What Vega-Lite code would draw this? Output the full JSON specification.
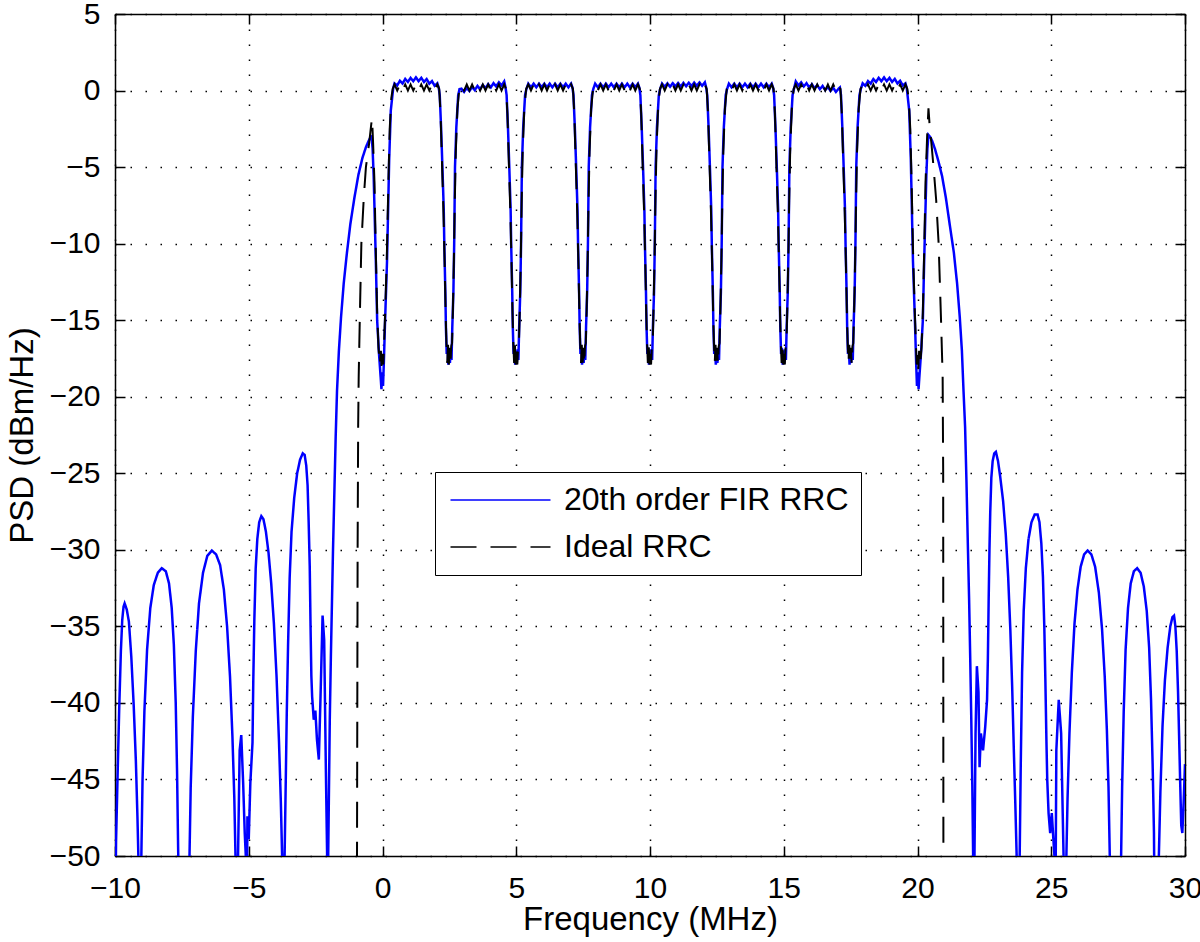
{
"$schema":"https://vega.github.io/schema/vega-lite/v6.json",
"width":1070,"height":842,
"autosize":{"type":"none"},
"padding":{"left":115,"top":14,"right":15,"bottom":86},
"background":"white",
"datasets":{
"fir":[
{"f":-10.0,"p":-56},{"f":-9.96,"p":-49.0},{"f":-9.90,"p":-44.5},{"f":-9.84,"p":-40.2},{"f":-9.78,"p":-36.6},{"f":-9.73,"p":-34.6},{"f":-9.68,"p":-33.7},{"f":-9.64,"p":-33.5},{"f":-9.56,"p":-33.9},{"f":-9.48,"p":-34.7},{"f":-9.39,"p":-37.0},{"f":-9.30,"p":-40.2},{"f":-9.22,"p":-43.8},{"f":-9.16,"p":-47.5},{"f":-9.12,"p":-50.5},{"f":-9.065,"p":-70},
{"f":-9.02,"p":-50.5},{"f":-8.97,"p":-45.0},{"f":-8.90,"p":-40.5},{"f":-8.80,"p":-36.5},{"f":-8.68,"p":-33.8},{"f":-8.55,"p":-32.3},{"f":-8.40,"p":-31.5},{"f":-8.25,"p":-31.2},{"f":-8.10,"p":-31.4},{"f":-7.98,"p":-32.2},{"f":-7.88,"p":-33.8},{"f":-7.80,"p":-36.2},{"f":-7.73,"p":-40.0},{"f":-7.68,"p":-44.5},{"f":-7.64,"p":-49.5},{"f":-7.43,"p":-70},
{"f":-7.22,"p":-50.5},{"f":-7.17,"p":-45.5},{"f":-7.09,"p":-40.9},{"f":-6.98,"p":-36.6},{"f":-6.86,"p":-33.5},{"f":-6.71,"p":-31.5},{"f":-6.55,"p":-30.4},{"f":-6.38,"p":-30.05},{"f":-6.22,"p":-30.3},{"f":-6.07,"p":-31.0},{"f":-5.93,"p":-32.6},{"f":-5.81,"p":-35.0},{"f":-5.70,"p":-38.3},{"f":-5.61,"p":-42.2},{"f":-5.54,"p":-46.2},{"f":-5.49,"p":-50.5},{"f":-5.45,"p":-70},
{"f":-5.40,"p":-50},{"f":-5.34,"p":-43.1},{"f":-5.28,"p":-42.1},{"f":-5.21,"p":-45.2},{"f":-5.15,"p":-48.5},{"f":-5.11,"p":-50},{"f":-5.08,"p":-56},{"f":-5.05,"p":-47.4},{"f":-5.00,"p":-48.9},{"f":-4.94,"p":-45.2},{"f":-4.86,"p":-42.6},
{"f":-4.83,"p":-38.5},{"f":-4.79,"p":-34.5},{"f":-4.74,"p":-31.2},{"f":-4.68,"p":-29.3},{"f":-4.61,"p":-28.2},{"f":-4.53,"p":-27.8},{"f":-4.45,"p":-28.0},{"f":-4.36,"p":-28.8},{"f":-4.26,"p":-30.2},{"f":-4.16,"p":-32.2},{"f":-4.06,"p":-34.8},{"f":-3.96,"p":-38.3},{"f":-3.87,"p":-42.5},{"f":-3.80,"p":-46.5},{"f":-3.75,"p":-50.2},{"f":-3.70,"p":-70},
{"f":-3.66,"p":-50},{"f":-3.62,"p":-45.5},{"f":-3.58,"p":-40.8},{"f":-3.53,"p":-36.2},{"f":-3.47,"p":-31.8},{"f":-3.40,"p":-28.8},{"f":-3.30,"p":-26.6},{"f":-3.19,"p":-25.0},{"f":-3.08,"p":-24.1},{"f":-2.98,"p":-23.7},{"f":-2.91,"p":-23.8},{"f":-2.85,"p":-24.5},{"f":-2.80,"p":-25.8},{"f":-2.76,"p":-28.2},{"f":-2.72,"p":-31.1},{"f":-2.69,"p":-35.0},{"f":-2.66,"p":-38.2},{"f":-2.63,"p":-39.6},{"f":-2.57,"p":-41.1},{"f":-2.51,"p":-40.5},{"f":-2.45,"p":-42.4},{"f":-2.38,"p":-43.7},{"f":-2.32,"p":-39.8},{"f":-2.24,"p":-34.3},{"f":-2.18,"p":-35.9},{"f":-2.12,"p":-44.0},{"f":-2.07,"p":-50},{"f":-2.05,"p":-70},
{"f":-2.03,"p":-50},{"f":-2.00,"p":-45.5},{"f":-1.97,"p":-41.0},{"f":-1.93,"p":-37.0},{"f":-1.89,"p":-33.5},{"f":-1.85,"p":-30.0},{"f":-1.80,"p":-26.3},{"f":-1.75,"p":-22.6},{"f":-1.70,"p":-19.6},{"f":-1.63,"p":-17.0},{"f":-1.55,"p":-14.8},{"f":-1.45,"p":-12.6},{"f":-1.33,"p":-10.6},{"f":-1.20,"p":-8.7},{"f":-1.05,"p":-7.0},{"f":-0.90,"p":-5.5},{"f":-0.75,"p":-4.4},{"f":-0.62,"p":-3.7},{"f":-0.52,"p":-3.3},{"f":-0.45,"p":-3.05},{"f":-0.41,"p":-3.0},{"f":-0.37,"p":-3.8},{"f":-0.33,"p":-5.6},{"f":-0.25,"p":-11.1},{"f":-0.20,"p":-15.0},{"f":-0.13,"p":-17.2},{"f":-0.07,"p":-18.7},{"f":-0.04,"p":-19.5},{"f":-0.01,"p":-18.4},{"f":0.02,"p":-19.3},{"f":0.05,"p":-17.8},{"f":0.09,"p":-15.4},{"f":0.17,"p":-11.1},{"f":0.25,"p":-4.5},{"f":0.31,"p":-1.3},{"f":0.40,"p":0.15},
{"f":0.45,"p":0.47},{"f":0.55,"p":0.33},{"f":0.65,"p":0.64},{"f":0.75,"p":0.46},{"f":0.85,"p":0.76},{"f":0.95,"p":0.56},{"f":1.05,"p":0.83},{"f":1.15,"p":0.61},{"f":1.25,"p":0.86},{"f":1.35,"p":0.61},{"f":1.45,"p":0.83},{"f":1.55,"p":0.56},{"f":1.65,"p":0.75},{"f":1.75,"p":0.45},{"f":1.85,"p":0.62},{"f":1.95,"p":0.31},{"f":2.05,"p":0.47},
{"f":2.10,"p":0.2},{"f":2.14,"p":-0.3},{"f":2.19,"p":-2.4},{"f":2.24,"p":-5.0},{"f":2.29,"p":-7.8},{"f":2.31,"p":-10.0},{"f":2.35,"p":-13.2},{"f":2.37,"p":-15.4},{"f":2.40,"p":-17.2},{"f":2.43,"p":-16.8},{"f":2.46,"p":-17.9},{"f":2.49,"p":-17.0},{"f":2.52,"p":-17.8},{"f":2.55,"p":-16.9},{"f":2.58,"p":-17.6},{"f":2.61,"p":-15.4},{"f":2.65,"p":-13.2},{"f":2.68,"p":-10.0},{"f":2.71,"p":-5.0},{"f":2.76,"p":-2.4},{"f":2.83,"p":-0.3},{"f":2.88,"p":0.1},
{"f":2.95,"p":0.12},{"f":3.05,"p":-0.09},{"f":3.15,"p":0.18},{"f":3.25,"p":-0.03},{"f":3.35,"p":0.24},{"f":3.45,"p":0.03},{"f":3.55,"p":0.30},{"f":3.65,"p":0.09},{"f":3.75,"p":0.36},{"f":3.85,"p":0.15},{"f":3.95,"p":0.42},{"f":4.05,"p":0.21},{"f":4.15,"p":0.48},{"f":4.25,"p":0.27},{"f":4.35,"p":0.54},{"f":4.45,"p":0.33},{"f":4.55,"p":0.60},
{"f":4.60,"p":0.2},{"f":4.64,"p":-0.3},{"f":4.69,"p":-2.4},{"f":4.74,"p":-5.0},{"f":4.79,"p":-7.8},{"f":4.81,"p":-10.0},{"f":4.85,"p":-13.2},{"f":4.87,"p":-15.4},{"f":4.90,"p":-17.2},{"f":4.93,"p":-16.8},{"f":4.96,"p":-17.9},{"f":4.99,"p":-17.0},{"f":5.02,"p":-17.8},{"f":5.05,"p":-16.9},{"f":5.08,"p":-17.6},{"f":5.11,"p":-15.4},{"f":5.15,"p":-13.2},{"f":5.18,"p":-10.0},{"f":5.21,"p":-5.0},{"f":5.26,"p":-2.4},{"f":5.33,"p":-0.3},{"f":5.38,"p":0.1},
{"f":5.45,"p":0.45},{"f":5.55,"p":0.21},{"f":5.65,"p":0.45},{"f":5.75,"p":0.21},{"f":5.85,"p":0.45},{"f":5.95,"p":0.21},{"f":6.05,"p":0.45},{"f":6.15,"p":0.21},{"f":6.25,"p":0.45},{"f":6.35,"p":0.21},{"f":6.45,"p":0.45},{"f":6.55,"p":0.21},{"f":6.65,"p":0.45},{"f":6.75,"p":0.21},{"f":6.85,"p":0.45},{"f":6.95,"p":0.21},{"f":7.05,"p":0.45},
{"f":7.10,"p":0.2},{"f":7.14,"p":-0.3},{"f":7.19,"p":-2.4},{"f":7.24,"p":-5.0},{"f":7.29,"p":-7.8},{"f":7.31,"p":-10.0},{"f":7.35,"p":-13.2},{"f":7.37,"p":-15.4},{"f":7.40,"p":-17.2},{"f":7.43,"p":-16.8},{"f":7.46,"p":-17.9},{"f":7.49,"p":-17.0},{"f":7.52,"p":-17.8},{"f":7.55,"p":-16.9},{"f":7.58,"p":-17.6},{"f":7.61,"p":-15.4},{"f":7.65,"p":-13.2},{"f":7.68,"p":-10.0},{"f":7.71,"p":-5.0},{"f":7.76,"p":-2.4},{"f":7.83,"p":-0.3},{"f":7.88,"p":0.1},
{"f":7.95,"p":0.45},{"f":8.05,"p":0.21},{"f":8.15,"p":0.45},{"f":8.25,"p":0.21},{"f":8.35,"p":0.45},{"f":8.45,"p":0.21},{"f":8.55,"p":0.45},{"f":8.65,"p":0.21},{"f":8.75,"p":0.45},{"f":8.85,"p":0.21},{"f":8.95,"p":0.45},{"f":9.05,"p":0.21},{"f":9.15,"p":0.45},{"f":9.25,"p":0.21},{"f":9.35,"p":0.45},{"f":9.45,"p":0.21},{"f":9.55,"p":0.45},
{"f":9.60,"p":0.2},{"f":9.64,"p":-0.3},{"f":9.69,"p":-2.4},{"f":9.74,"p":-5.0},{"f":9.79,"p":-7.8},{"f":9.81,"p":-10.0},{"f":9.85,"p":-13.2},{"f":9.87,"p":-15.4},{"f":9.90,"p":-17.2},{"f":9.93,"p":-16.8},{"f":9.96,"p":-17.9},{"f":9.99,"p":-17.0},{"f":10.02,"p":-17.8},{"f":10.05,"p":-16.9},{"f":10.08,"p":-17.6},{"f":10.11,"p":-15.4},{"f":10.15,"p":-13.2},{"f":10.18,"p":-10.0},{"f":10.21,"p":-5.0},{"f":10.26,"p":-2.4},{"f":10.33,"p":-0.3},{"f":10.38,"p":0.1},
{"f":10.45,"p":0.46},{"f":10.55,"p":0.24},{"f":10.65,"p":0.47},{"f":10.75,"p":0.25},{"f":10.85,"p":0.48},{"f":10.95,"p":0.26},{"f":11.05,"p":0.49},{"f":11.15,"p":0.27},{"f":11.25,"p":0.50},{"f":11.35,"p":0.28},{"f":11.45,"p":0.51},{"f":11.55,"p":0.29},{"f":11.65,"p":0.52},{"f":11.75,"p":0.30},{"f":11.85,"p":0.53},{"f":11.95,"p":0.31},{"f":12.05,"p":0.54},
{"f":12.10,"p":0.2},{"f":12.14,"p":-0.3},{"f":12.19,"p":-2.4},{"f":12.24,"p":-5.0},{"f":12.29,"p":-7.8},{"f":12.31,"p":-10.0},{"f":12.35,"p":-13.2},{"f":12.37,"p":-15.4},{"f":12.40,"p":-17.2},{"f":12.43,"p":-16.8},{"f":12.46,"p":-17.9},{"f":12.49,"p":-17.0},{"f":12.52,"p":-17.8},{"f":12.55,"p":-16.9},{"f":12.58,"p":-17.6},{"f":12.61,"p":-15.4},{"f":12.65,"p":-13.2},{"f":12.68,"p":-10.0},{"f":12.71,"p":-5.0},{"f":12.76,"p":-2.4},{"f":12.83,"p":-0.3},{"f":12.88,"p":0.1},
{"f":12.95,"p":0.45},{"f":13.05,"p":0.21},{"f":13.15,"p":0.45},{"f":13.25,"p":0.21},{"f":13.35,"p":0.45},{"f":13.45,"p":0.21},{"f":13.55,"p":0.45},{"f":13.65,"p":0.21},{"f":13.75,"p":0.45},{"f":13.85,"p":0.21},{"f":13.95,"p":0.45},{"f":14.05,"p":0.21},{"f":14.15,"p":0.45},{"f":14.25,"p":0.21},{"f":14.35,"p":0.45},{"f":14.45,"p":0.21},{"f":14.55,"p":0.45},
{"f":14.60,"p":0.2},{"f":14.64,"p":-0.3},{"f":14.69,"p":-2.4},{"f":14.74,"p":-5.0},{"f":14.79,"p":-7.8},{"f":14.81,"p":-10.0},{"f":14.85,"p":-13.2},{"f":14.87,"p":-15.4},{"f":14.90,"p":-17.2},{"f":14.93,"p":-16.8},{"f":14.96,"p":-17.9},{"f":14.99,"p":-17.0},{"f":15.02,"p":-17.8},{"f":15.05,"p":-16.9},{"f":15.08,"p":-17.6},{"f":15.11,"p":-15.4},{"f":15.15,"p":-13.2},{"f":15.18,"p":-10.0},{"f":15.21,"p":-5.0},{"f":15.26,"p":-2.4},{"f":15.33,"p":-0.3},{"f":15.38,"p":0.1},
{"f":15.45,"p":0.60},{"f":15.55,"p":0.33},{"f":15.65,"p":0.54},{"f":15.75,"p":0.27},{"f":15.85,"p":0.48},{"f":15.95,"p":0.21},{"f":16.05,"p":0.42},{"f":16.15,"p":0.15},{"f":16.25,"p":0.36},{"f":16.35,"p":0.09},{"f":16.45,"p":0.30},{"f":16.55,"p":0.03},{"f":16.65,"p":0.24},{"f":16.75,"p":-0.03},{"f":16.85,"p":0.18},{"f":16.95,"p":-0.09},{"f":17.05,"p":0.12},
{"f":17.10,"p":0.2},{"f":17.14,"p":-0.3},{"f":17.19,"p":-2.4},{"f":17.24,"p":-5.0},{"f":17.29,"p":-7.8},{"f":17.31,"p":-10.0},{"f":17.35,"p":-13.2},{"f":17.37,"p":-15.4},{"f":17.40,"p":-17.2},{"f":17.43,"p":-16.8},{"f":17.46,"p":-17.9},{"f":17.49,"p":-17.0},{"f":17.52,"p":-17.8},{"f":17.55,"p":-16.9},{"f":17.58,"p":-17.6},{"f":17.61,"p":-15.4},{"f":17.65,"p":-13.2},{"f":17.68,"p":-10.0},{"f":17.71,"p":-5.0},{"f":17.76,"p":-2.4},{"f":17.83,"p":-0.3},{"f":17.88,"p":0.1},
{"f":17.95,"p":0.47},{"f":18.05,"p":0.31},{"f":18.15,"p":0.62},{"f":18.25,"p":0.45},{"f":18.35,"p":0.75},{"f":18.45,"p":0.56},{"f":18.55,"p":0.83},{"f":18.65,"p":0.61},{"f":18.75,"p":0.86},{"f":18.85,"p":0.61},{"f":18.95,"p":0.83},{"f":19.05,"p":0.56},{"f":19.15,"p":0.76},{"f":19.25,"p":0.46},{"f":19.35,"p":0.64},{"f":19.45,"p":0.33},{"f":19.55,"p":0.47},
{"f":19.60,"p":0.15},{"f":19.69,"p":-1.3},{"f":19.75,"p":-4.5},{"f":19.83,"p":-11.1},{"f":19.91,"p":-15.4},{"f":19.95,"p":-17.8},{"f":19.98,"p":-19.3},{"f":20.01,"p":-18.4},{"f":20.04,"p":-19.5},{"f":20.07,"p":-18.7},{"f":20.13,"p":-17.2},{"f":20.20,"p":-15.0},{"f":20.25,"p":-11.1},{"f":20.33,"p":-5.6},{"f":20.37,"p":-3.8},{"f":20.41,"p":-2.9},{"f":20.48,"p":-3.05},{"f":20.55,"p":-3.3},{"f":20.65,"p":-3.8},{"f":20.78,"p":-4.6},{"f":20.92,"p":-5.6},{"f":21.06,"p":-7.0},{"f":21.20,"p":-8.7},{"f":21.36,"p":-10.6},{"f":21.48,"p":-12.6},{"f":21.58,"p":-14.8},{"f":21.66,"p":-17.0},{"f":21.72,"p":-19.6},{"f":21.78,"p":-22.0},{"f":21.83,"p":-25.5},{"f":21.88,"p":-29.5},{"f":21.93,"p":-33.3},{"f":21.97,"p":-37.0},{"f":22.01,"p":-41.0},{"f":22.05,"p":-45.5},{"f":22.08,"p":-50},{"f":22.10,"p":-70},
{"f":22.13,"p":-50},{"f":22.17,"p":-42.0},{"f":22.22,"p":-37.6},{"f":22.28,"p":-39.3},{"f":22.32,"p":-44.2},{"f":22.37,"p":-42.0},{"f":22.45,"p":-43.1},{"f":22.53,"p":-41.6},{"f":22.60,"p":-39.8},{"f":22.63,"p":-37.2},
{"f":22.66,"p":-33.3},{"f":22.69,"p":-30.0},{"f":22.72,"p":-27.5},{"f":22.76,"p":-25.3},{"f":22.81,"p":-24.2},{"f":22.87,"p":-23.7},{"f":22.93,"p":-23.6},{"f":23.01,"p":-24.2},{"f":23.09,"p":-25.2},{"f":23.20,"p":-26.8},{"f":23.30,"p":-29.0},{"f":23.39,"p":-31.8},{"f":23.47,"p":-35.2},{"f":23.54,"p":-39.0},{"f":23.60,"p":-43.0},{"f":23.66,"p":-46.8},{"f":23.71,"p":-50.2},{"f":23.77,"p":-70},
{"f":23.82,"p":-50},{"f":23.86,"p":-44.0},{"f":23.91,"p":-38.0},{"f":23.97,"p":-34.0},{"f":24.05,"p":-31.2},{"f":24.15,"p":-29.3},{"f":24.26,"p":-28.2},{"f":24.38,"p":-27.7},{"f":24.49,"p":-27.7},{"f":24.56,"p":-28.2},{"f":24.63,"p":-29.6},{"f":24.69,"p":-31.8},{"f":24.74,"p":-35.0},{"f":24.78,"p":-38.5},{"f":24.82,"p":-42.5},{"f":24.85,"p":-45.0},{"f":24.90,"p":-47.2},{"f":24.96,"p":-48.5},{"f":25.02,"p":-47.2},{"f":25.09,"p":-49.2},{"f":25.12,"p":-50},{"f":25.15,"p":-56},{"f":25.19,"p":-43.1},{"f":25.28,"p":-39.8},{"f":25.37,"p":-42.0},{"f":25.46,"p":-50},{"f":25.51,"p":-70},
{"f":25.56,"p":-50.5},{"f":25.61,"p":-46.2},{"f":25.68,"p":-42.0},{"f":25.77,"p":-38.0},{"f":25.87,"p":-34.8},{"f":25.98,"p":-32.6},{"f":26.10,"p":-31.1},{"f":26.23,"p":-30.3},{"f":26.36,"p":-30.05},{"f":26.50,"p":-30.3},{"f":26.64,"p":-31.1},{"f":26.78,"p":-32.8},{"f":26.90,"p":-35.2},{"f":27.00,"p":-38.3},{"f":27.08,"p":-41.8},{"f":27.14,"p":-45.5},{"f":27.19,"p":-50.2},{"f":27.40,"p":-70},
{"f":27.61,"p":-50.2},{"f":27.65,"p":-45.5},{"f":27.71,"p":-40.5},{"f":27.78,"p":-36.5},{"f":27.87,"p":-33.8},{"f":27.97,"p":-32.2},{"f":28.09,"p":-31.4},{"f":28.21,"p":-31.2},{"f":28.34,"p":-31.5},{"f":28.46,"p":-32.4},{"f":28.57,"p":-34.0},{"f":28.66,"p":-36.4},{"f":28.73,"p":-39.8},{"f":28.79,"p":-44.0},{"f":28.84,"p":-48.5},{"f":28.93,"p":-70},
{"f":29.02,"p":-50.2},{"f":29.08,"p":-45.8},{"f":29.16,"p":-41.5},{"f":29.25,"p":-38.5},{"f":29.35,"p":-36.4},{"f":29.45,"p":-35.0},{"f":29.53,"p":-34.4},{"f":29.59,"p":-34.3},{"f":29.64,"p":-35.0},{"f":29.69,"p":-36.6},{"f":29.74,"p":-39.3},{"f":29.78,"p":-42.2},{"f":29.82,"p":-45.2},{"f":29.86,"p":-48.0},{"f":29.90,"p":-48.5},{"f":29.95,"p":-46.5},{"f":30.0,"p":-44.0}
],
"ideal":[
{"f":-0.96,"p":-56},{"f":-0.93,"p":-30},{"f":-0.91,"p":-22},{"f":-0.89,"p":-18.7},{"f":-0.85,"p":-15.0},{"f":-0.79,"p":-10.0},{"f":-0.70,"p":-7.0},{"f":-0.62,"p":-5.0},{"f":-0.50,"p":-3.45},{"f":-0.42,"p":-2.2},{"f":-0.39,"p":-1.8},{"f":-0.35,"p":-3.5},{"f":-0.30,"p":-6.0},{"f":-0.25,"p":-10.5},{"f":-0.20,"p":-14.5},{"f":-0.15,"p":-16.8},{"f":-0.10,"p":-17.9},{"f":-0.06,"p":-17.0},{"f":-0.03,"p":-18.2},{"f":0.00,"p":-17.2},{"f":0.03,"p":-17.9},{"f":0.06,"p":-16.5},{"f":0.10,"p":-14.5},{"f":0.16,"p":-11.0},{"f":0.22,"p":-6.0},{"f":0.27,"p":-2.5},{"f":0.33,"p":-0.5},{"f":0.38,"p":0.1},
{"f":0.45,"p":0.4},{"f":0.55,"p":0.0},{"f":0.65,"p":0.4},{"f":0.75,"p":0.0},{"f":0.85,"p":0.4},{"f":0.95,"p":0.0},{"f":1.05,"p":0.4},{"f":1.15,"p":0.0},{"f":1.25,"p":0.4},{"f":1.35,"p":0.0},{"f":1.45,"p":0.4},{"f":1.55,"p":0.0},{"f":1.65,"p":0.4},{"f":1.75,"p":0.0},{"f":1.85,"p":0.4},{"f":1.95,"p":0.0},{"f":2.05,"p":0.4},
{"f":2.12,"p":0.1},{"f":2.17,"p":-1.5},{"f":2.22,"p":-4.5},{"f":2.28,"p":-8.0},{"f":2.32,"p":-11.0},{"f":2.36,"p":-14.5},{"f":2.39,"p":-16.5},{"f":2.42,"p":-17.8},{"f":2.45,"p":-16.6},{"f":2.48,"p":-17.9},{"f":2.51,"p":-16.8},{"f":2.54,"p":-17.9},{"f":2.57,"p":-16.7},{"f":2.60,"p":-16.5},{"f":2.63,"p":-14.5},{"f":2.67,"p":-11.0},{"f":2.70,"p":-7.5},{"f":2.74,"p":-4.0},{"f":2.80,"p":-1.2},{"f":2.87,"p":0.1},
{"f":2.95,"p":0.4},{"f":3.05,"p":0.0},{"f":3.15,"p":0.4},{"f":3.25,"p":0.0},{"f":3.35,"p":0.4},{"f":3.45,"p":0.0},{"f":3.55,"p":0.4},{"f":3.65,"p":0.0},{"f":3.75,"p":0.4},{"f":3.85,"p":0.0},{"f":3.95,"p":0.4},{"f":4.05,"p":0.0},{"f":4.15,"p":0.4},{"f":4.25,"p":0.0},{"f":4.35,"p":0.4},{"f":4.45,"p":0.0},{"f":4.55,"p":0.4},
{"f":4.62,"p":0.1},{"f":4.67,"p":-1.5},{"f":4.72,"p":-4.5},{"f":4.78,"p":-8.0},{"f":4.82,"p":-11.0},{"f":4.86,"p":-14.5},{"f":4.89,"p":-16.5},{"f":4.92,"p":-17.8},{"f":4.95,"p":-16.6},{"f":4.98,"p":-17.9},{"f":5.01,"p":-16.8},{"f":5.04,"p":-17.9},{"f":5.07,"p":-16.7},{"f":5.10,"p":-16.5},{"f":5.13,"p":-14.5},{"f":5.17,"p":-11.0},{"f":5.20,"p":-7.5},{"f":5.24,"p":-4.0},{"f":5.30,"p":-1.2},{"f":5.37,"p":0.1},
{"f":5.45,"p":0.4},{"f":5.55,"p":0.0},{"f":5.65,"p":0.4},{"f":5.75,"p":0.0},{"f":5.85,"p":0.4},{"f":5.95,"p":0.0},{"f":6.05,"p":0.4},{"f":6.15,"p":0.0},{"f":6.25,"p":0.4},{"f":6.35,"p":0.0},{"f":6.45,"p":0.4},{"f":6.55,"p":0.0},{"f":6.65,"p":0.4},{"f":6.75,"p":0.0},{"f":6.85,"p":0.4},{"f":6.95,"p":0.0},{"f":7.05,"p":0.4},
{"f":7.12,"p":0.1},{"f":7.17,"p":-1.5},{"f":7.22,"p":-4.5},{"f":7.28,"p":-8.0},{"f":7.32,"p":-11.0},{"f":7.36,"p":-14.5},{"f":7.39,"p":-16.5},{"f":7.42,"p":-17.8},{"f":7.45,"p":-16.6},{"f":7.48,"p":-17.9},{"f":7.51,"p":-16.8},{"f":7.54,"p":-17.9},{"f":7.57,"p":-16.7},{"f":7.60,"p":-16.5},{"f":7.63,"p":-14.5},{"f":7.67,"p":-11.0},{"f":7.70,"p":-7.5},{"f":7.74,"p":-4.0},{"f":7.80,"p":-1.2},{"f":7.87,"p":0.1},
{"f":7.95,"p":0.4},{"f":8.05,"p":0.0},{"f":8.15,"p":0.4},{"f":8.25,"p":0.0},{"f":8.35,"p":0.4},{"f":8.45,"p":0.0},{"f":8.55,"p":0.4},{"f":8.65,"p":0.0},{"f":8.75,"p":0.4},{"f":8.85,"p":0.0},{"f":8.95,"p":0.4},{"f":9.05,"p":0.0},{"f":9.15,"p":0.4},{"f":9.25,"p":0.0},{"f":9.35,"p":0.4},{"f":9.45,"p":0.0},{"f":9.55,"p":0.4},
{"f":9.62,"p":0.1},{"f":9.67,"p":-1.5},{"f":9.72,"p":-4.5},{"f":9.78,"p":-8.0},{"f":9.82,"p":-11.0},{"f":9.86,"p":-14.5},{"f":9.89,"p":-16.5},{"f":9.92,"p":-17.8},{"f":9.95,"p":-16.6},{"f":9.98,"p":-17.9},{"f":10.01,"p":-16.8},{"f":10.04,"p":-17.9},{"f":10.07,"p":-16.7},{"f":10.10,"p":-16.5},{"f":10.13,"p":-14.5},{"f":10.17,"p":-11.0},{"f":10.20,"p":-7.5},{"f":10.24,"p":-4.0},{"f":10.30,"p":-1.2},{"f":10.37,"p":0.1},
{"f":10.45,"p":0.4},{"f":10.55,"p":0.0},{"f":10.65,"p":0.4},{"f":10.75,"p":0.0},{"f":10.85,"p":0.4},{"f":10.95,"p":0.0},{"f":11.05,"p":0.4},{"f":11.15,"p":0.0},{"f":11.25,"p":0.4},{"f":11.35,"p":0.0},{"f":11.45,"p":0.4},{"f":11.55,"p":0.0},{"f":11.65,"p":0.4},{"f":11.75,"p":0.0},{"f":11.85,"p":0.4},{"f":11.95,"p":0.0},{"f":12.05,"p":0.4},
{"f":12.12,"p":0.1},{"f":12.17,"p":-1.5},{"f":12.22,"p":-4.5},{"f":12.28,"p":-8.0},{"f":12.32,"p":-11.0},{"f":12.36,"p":-14.5},{"f":12.39,"p":-16.5},{"f":12.42,"p":-17.8},{"f":12.45,"p":-16.6},{"f":12.48,"p":-17.9},{"f":12.51,"p":-16.8},{"f":12.54,"p":-17.9},{"f":12.57,"p":-16.7},{"f":12.60,"p":-16.5},{"f":12.63,"p":-14.5},{"f":12.67,"p":-11.0},{"f":12.70,"p":-7.5},{"f":12.74,"p":-4.0},{"f":12.80,"p":-1.2},{"f":12.87,"p":0.1},
{"f":12.95,"p":0.4},{"f":13.05,"p":0.0},{"f":13.15,"p":0.4},{"f":13.25,"p":0.0},{"f":13.35,"p":0.4},{"f":13.45,"p":0.0},{"f":13.55,"p":0.4},{"f":13.65,"p":0.0},{"f":13.75,"p":0.4},{"f":13.85,"p":0.0},{"f":13.95,"p":0.4},{"f":14.05,"p":0.0},{"f":14.15,"p":0.4},{"f":14.25,"p":0.0},{"f":14.35,"p":0.4},{"f":14.45,"p":0.0},{"f":14.55,"p":0.4},
{"f":14.62,"p":0.1},{"f":14.67,"p":-1.5},{"f":14.72,"p":-4.5},{"f":14.78,"p":-8.0},{"f":14.82,"p":-11.0},{"f":14.86,"p":-14.5},{"f":14.89,"p":-16.5},{"f":14.92,"p":-17.8},{"f":14.95,"p":-16.6},{"f":14.98,"p":-17.9},{"f":15.01,"p":-16.8},{"f":15.04,"p":-17.9},{"f":15.07,"p":-16.7},{"f":15.10,"p":-16.5},{"f":15.13,"p":-14.5},{"f":15.17,"p":-11.0},{"f":15.20,"p":-7.5},{"f":15.24,"p":-4.0},{"f":15.30,"p":-1.2},{"f":15.37,"p":0.1},
{"f":15.45,"p":0.4},{"f":15.55,"p":0.0},{"f":15.65,"p":0.4},{"f":15.75,"p":0.0},{"f":15.85,"p":0.4},{"f":15.95,"p":0.0},{"f":16.05,"p":0.4},{"f":16.15,"p":0.0},{"f":16.25,"p":0.4},{"f":16.35,"p":0.0},{"f":16.45,"p":0.4},{"f":16.55,"p":0.0},{"f":16.65,"p":0.4},{"f":16.75,"p":0.0},{"f":16.85,"p":0.4},{"f":16.95,"p":0.0},{"f":17.05,"p":0.4},
{"f":17.12,"p":0.1},{"f":17.17,"p":-1.5},{"f":17.22,"p":-4.5},{"f":17.28,"p":-8.0},{"f":17.32,"p":-11.0},{"f":17.36,"p":-14.5},{"f":17.39,"p":-16.5},{"f":17.42,"p":-17.8},{"f":17.45,"p":-16.6},{"f":17.48,"p":-17.9},{"f":17.51,"p":-16.8},{"f":17.54,"p":-17.9},{"f":17.57,"p":-16.7},{"f":17.60,"p":-16.5},{"f":17.63,"p":-14.5},{"f":17.67,"p":-11.0},{"f":17.70,"p":-7.5},{"f":17.74,"p":-4.0},{"f":17.80,"p":-1.2},{"f":17.87,"p":0.1},
{"f":17.95,"p":0.4},{"f":18.05,"p":0.0},{"f":18.15,"p":0.4},{"f":18.25,"p":0.0},{"f":18.35,"p":0.4},{"f":18.45,"p":0.0},{"f":18.55,"p":0.4},{"f":18.65,"p":0.0},{"f":18.75,"p":0.4},{"f":18.85,"p":0.0},{"f":18.95,"p":0.4},{"f":19.05,"p":0.0},{"f":19.15,"p":0.4},{"f":19.25,"p":0.0},{"f":19.35,"p":0.4},{"f":19.45,"p":0.0},{"f":19.55,"p":0.4},
{"f":19.62,"p":0.1},{"f":19.67,"p":-0.5},{"f":19.73,"p":-2.5},{"f":19.78,"p":-6.0},{"f":19.84,"p":-11.0},{"f":19.90,"p":-14.5},{"f":19.94,"p":-16.5},{"f":19.97,"p":-17.9},{"f":20.00,"p":-17.2},{"f":20.03,"p":-18.2},{"f":20.06,"p":-17.0},{"f":20.10,"p":-17.9},{"f":20.15,"p":-16.8},{"f":20.20,"p":-14.5},{"f":20.25,"p":-10.5},{"f":20.30,"p":-6.0},{"f":20.36,"p":-3.0},{"f":20.41,"p":-1.16},{"f":20.45,"p":-2.2},{"f":20.52,"p":-3.45},{"f":20.60,"p":-5.0},{"f":20.70,"p":-7.2},{"f":20.79,"p":-10.0},{"f":20.88,"p":-15.0},{"f":20.94,"p":-18.7},{"f":20.96,"p":-25},{"f":20.97,"p":-56}
]
},
"config":{
 "view":{"stroke":null},
 "font":"Liberation Sans",
 "axis":{"domainColor":"black","domainWidth":1.5,"tickColor":"black","tickWidth":1.5,"labelColor":"black","titleColor":"black","labelFontSize":30,"titleFontSize":33,"titleFontWeight":"normal","labelFont":"Liberation Sans","titleFont":"Liberation Sans","labelFlush":false,"labelOverlap":false}
},
"layer":[
 {"data":{"name":"fir"},
  "mark":{"type":"line","clip":true,"strokeWidth":2.5},
  "encoding":{
   "x":{"field":"f","type":"quantitative","scale":{"domain":[-10,30],"nice":false,"zero":false},
        "axis":{"orient":"bottom","values":[-10,-5,0,5,10,15,20,25,30],"title":"Frequency (MHz)","grid":true,"gridColor":"black","gridDash":[1.5,13.5],"gridWidth":1.5,"gridOpacity":1,"tickSize":-10,"labelPadding":27,"titlePadding":0,"labelExpr":"datum.value < 0 ? datum.label + '\u00a0\u00a0' : (datum.value == 30 ? datum.label + '\u00a0' : datum.label)"}},
   "y":{"field":"p","type":"quantitative","scale":{"domain":[-50,5],"nice":false,"zero":false},
        "axis":{"orient":"left","values":[-50,-45,-40,-35,-30,-25,-20,-15,-10,-5,0,5],"title":"PSD (dBm/Hz)","grid":true,"gridColor":"black","gridDash":[1.5,13.5],"gridWidth":1.5,"gridOpacity":1,"tickSize":-10,"labelPadding":25,"titlePadding":10}},
   "color":{"datum":"20th order FIR RRC","scale":{"domain":["20th order FIR RRC","Ideal RRC"],"range":["#0000ff","#000000"]},
        "legend":{"orient":"none","legendX":320,"legendY":458,"title":null,"strokeColor":"black","fillColor":"white","padding":12,"labelFontSize":32,"labelFont":"Liberation Sans","labelColor":"black","symbolType":"M-1,0H7","symbolSize":625,"symbolStrokeWidth":1.5,"labelOffset":85,"rowPadding":15,"labelLimit":600}},
   "strokeDash":{"datum":"20th order FIR RRC","scale":{"domain":["20th order FIR RRC","Ideal RRC"],"range":[[1,0],[26,14]]},
        "legend":{"orient":"none","legendX":320,"legendY":458,"title":null,"strokeColor":"black","fillColor":"white","padding":12,"labelFontSize":32,"labelFont":"Liberation Sans","labelColor":"black","symbolType":"M-1,0H7","symbolSize":625,"symbolStrokeWidth":1.5,"labelOffset":85,"rowPadding":15,"labelLimit":600}}
  }},
 {"data":{"name":"ideal"},
  "mark":{"type":"line","clip":true,"strokeWidth":2},
  "encoding":{
   "x":{"field":"f","type":"quantitative","axis":{"orient":"top","values":[-10,-5,0,5,10,15,20,25,30],"labels":false,"grid":false,"title":null,"tickSize":-10}},
   "y":{"field":"p","type":"quantitative","axis":{"orient":"right","values":[-50,-45,-40,-35,-30,-25,-20,-15,-10,-5,0,5],"labels":false,"grid":false,"title":null,"tickSize":-10}},
   "color":{"datum":"Ideal RRC"},
   "strokeDash":{"datum":"Ideal RRC"}
  }}
],
"resolve":{"axis":{"x":"independent","y":"independent"}}
}
